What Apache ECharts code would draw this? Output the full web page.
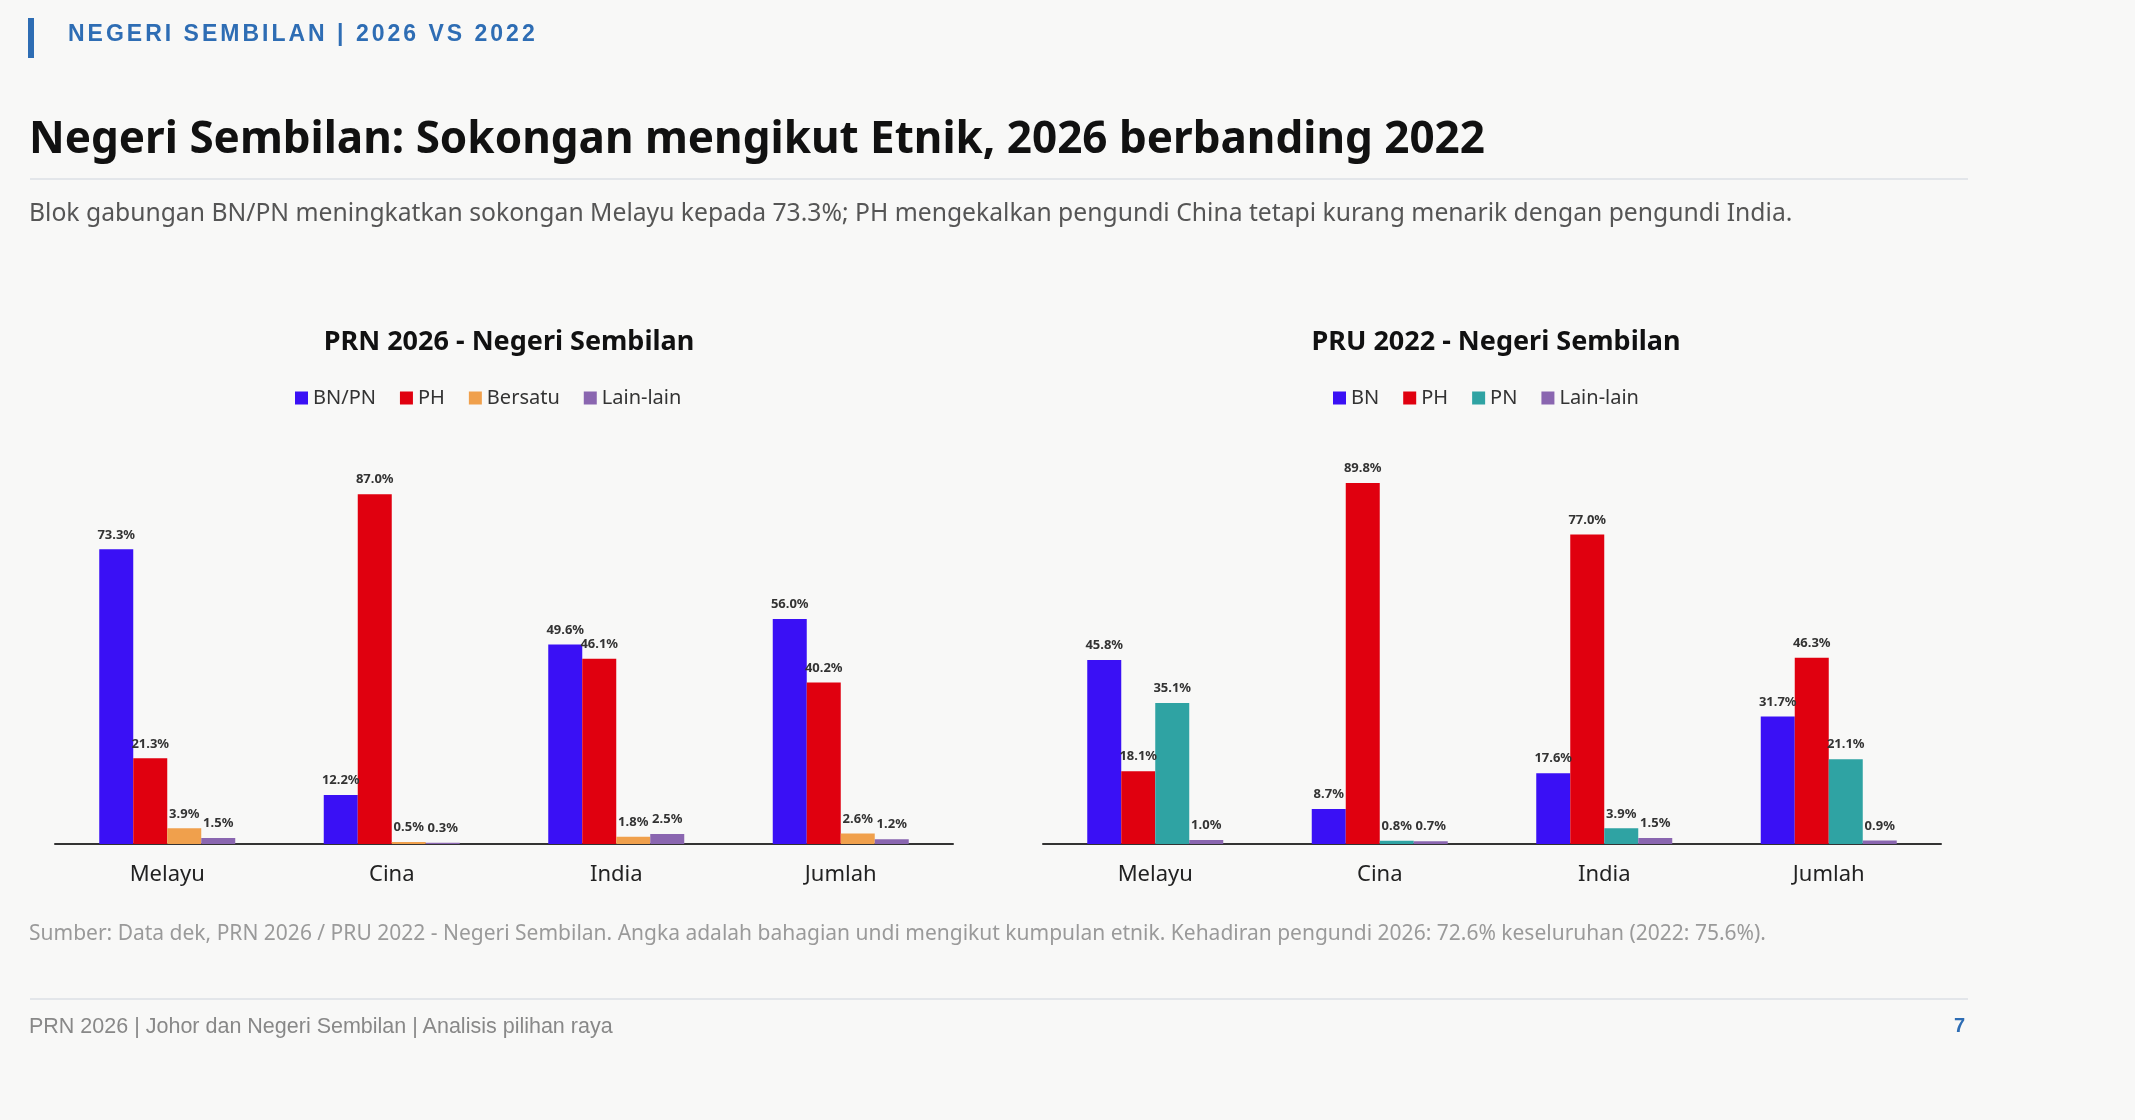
<!DOCTYPE html>
<html lang="ms">
<head>
  <meta charset="UTF-8">
  <title>Negeri Sembilan</title>
  <style>
    * { margin: 0; padding: 0; }
    body { width: 2135px; height: 1120px; background: #f8f8f7; font-family: 'Noto Sans', sans-serif; position: relative; overflow: hidden; }
    .bar { position: absolute; left: 28px; top: 18px; width: 6px; height: 40px; background: #2e6db4; }
    .kicker { position: absolute; left: 68px; top: 20px; font-family: 'Liberation Sans', Arial, sans-serif; font-size: 23px; font-weight: bold; color: #2e6db4; letter-spacing: 3px; }
    h1 { position: absolute; left: 29px; top: 106px; font-size: 44px; color: #111; font-weight: bold; }
    .line { position: absolute; left: 30px; width: 1938px; height: 2px; background: #e3e6ea; }
    .sub { position: absolute; left: 29px; top: 195px; font-size: 24.7px; color: #555; }
    .src { position: absolute; left: 29px; top: 918px; font-size: 21px; color: #9a9a9a; }
    .foot { position: absolute; left: 29px; top: 1014px; font-family: 'Liberation Sans', Arial, sans-serif; font-size: 21.5px; color: #888; }
    .page { position: absolute; left: 1954px; top: 1014px; font-family: 'Liberation Sans', Arial, sans-serif; font-size: 20px; color: #2e6db4; font-weight: bold; }
    #chart { position: absolute; left: 0; top: 0; width: 2135px; height: 1120px; }
  </style>
</head>
<body>
  <div id="chart"></div>
  <div class="bar"></div>
  <div class="kicker">NEGERI SEMBILAN | 2026 VS 2022</div>
  <h1>Negeri Sembilan: Sokongan mengikut Etnik, 2026 berbanding 2022</h1>
  <div class="line" style="top:178px"></div>
  <div class="sub">Blok gabungan BN/PN meningkatkan sokongan Melayu kepada 73.3%; PH mengekalkan pengundi China tetapi kurang menarik dengan pengundi India.</div>
  <div class="src">Sumber: Data dek, PRN 2026 / PRU 2022 - Negeri Sembilan. Angka adalah bahagian undi mengikut kumpulan etnik. Kehadiran pengundi 2026: 72.6% keseluruhan (2022: 75.6%).</div>
  <div class="line" style="top:998px"></div>
  <div class="foot">PRN 2026 | Johor dan Negeri Sembilan | Analisis pilihan raya</div>
  <div class="page">7</div>

  <script src="https://cdn.jsdelivr.net/npm/echarts@6/dist/echarts.min.js"></script>
  <script>
    var etnik = ['Melayu', 'Cina', 'India', 'Jumlah'];
    // PRN 2026
    var d2026 = {
      'BN/PN': [73.3, 12.2, 49.6, 56.0],
      'PH': [21.3, 87.0, 46.1, 40.2],
      'Bersatu': [3.9, 0.5, 1.8, 2.6],
      'Lain-lain': [1.5, 0.3, 2.5, 1.2]
    };
    // PRU 2022
    var d2022 = {
      'BN': [45.8, 8.7, 17.6, 31.7],
      'PH': [18.1, 89.8, 77.0, 46.3],
      'PN': [35.1, 0.8, 3.9, 21.1],
      'Lain-lain': [1.0, 0.7, 1.5, 0.9]
    };
    var c2026 = ['#3a10f5', '#e0000f', '#f0a04c', '#8a66b0'];
    var c2022 = ['#3a10f5', '#e0000f', '#2fa3a3', '#8a66b0'];

    var grids = [
      { left: 55, width: 898, top: 442, height: 402 },
      { left: 1043, width: 898, top: 442, height: 402 }
    ];

    function mkSeries(data, colors, idx) {
      return Object.keys(data).map(function (k, i) {
        return {
          name: k,
          type: 'bar',
          xAxisIndex: idx,
          yAxisIndex: idx,
          barWidth: 34,
          barGap: '0%',
          itemStyle: { color: colors[i] },
          label: {
            show: true,
            position: 'top',
            distance: 8,
            fontSize: 13,
            fontWeight: 'bold',
            color: '#333',
            formatter: function (p) { return p.value.toFixed(1) + '%'; }
          },
          data: data[k]
        };
      });
    }

    function xAx(idx) {
      return {
        type: 'category', gridIndex: idx, data: etnik,
        axisLine: { lineStyle: { color: '#333', width: 2 } },
        axisTick: { show: false },
        axisLabel: { fontSize: 22, color: '#222', margin: 20 }
      };
    }
    function yAx(idx) {
      return { type: 'value', gridIndex: idx, min: 0, max: 100, show: false, splitLine: { show: false } };
    }

    var chart = echarts.init(document.getElementById('chart'));
    chart.setOption({
      animation: false,
      textStyle: { fontFamily: 'Noto Sans' },
      title: [
        { text: 'PRN 2026 - Negeri Sembilan', left: 504, top: 324, textAlign: 'center', textStyle: { fontSize: 27, fontWeight: 'bold', color: '#111' } },
        { text: 'PRU 2022 - Negeri Sembilan', left: 1491, top: 324, textAlign: 'center', textStyle: { fontSize: 27, fontWeight: 'bold', color: '#111' } }
      ],
      legend: [
        { data: Object.keys(d2026), left: 290, top: 383, icon: 'rect', itemWidth: 13, itemHeight: 13, itemGap: 24, textStyle: { fontSize: 20, color: '#333' } },
        { data: Object.keys(d2022), left: 1328, top: 383, icon: 'rect', itemWidth: 13, itemHeight: 13, itemGap: 24, textStyle: { fontSize: 20, color: '#333' } }
      ],
      grid: grids,
      xAxis: [xAx(0), xAx(1)],
      yAxis: [yAx(0), yAx(1)],
      series: mkSeries(d2026, c2026, 0).concat(mkSeries(d2022, c2022, 1))
    });
  </script>
</body>
</html>
